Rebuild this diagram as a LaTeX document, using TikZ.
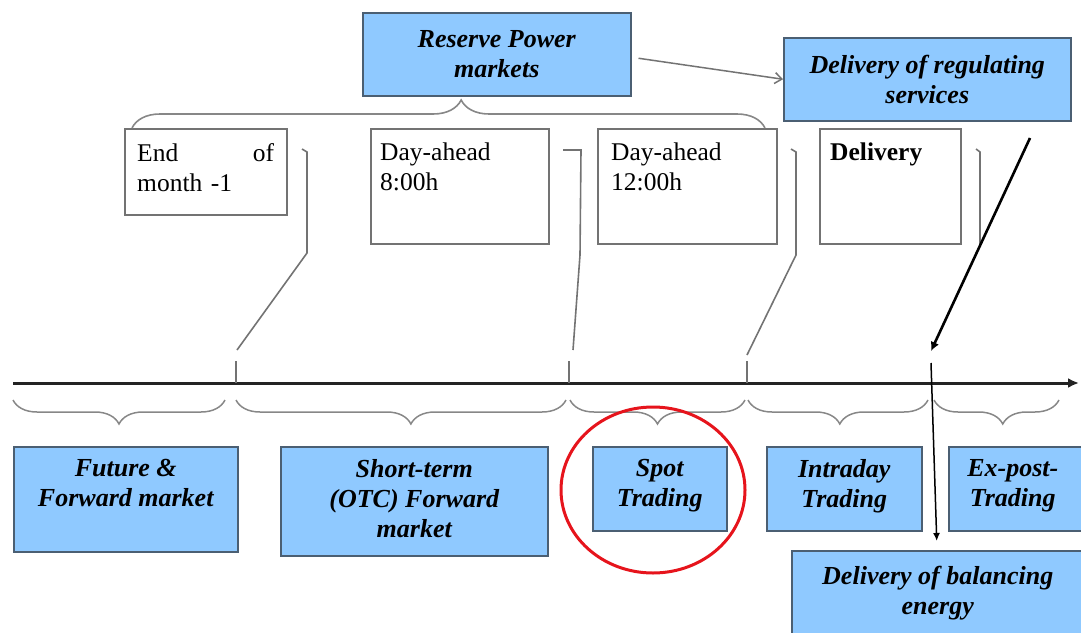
\documentclass[tikz,border=0pt]{standalone}
\usepackage{fontspec}
\setmainfont{Liberation Serif}
\usetikzlibrary{decorations.pathreplacing,arrows.meta,calc}

\definecolor{boxblue}{RGB}{143,201,255}
\definecolor{boxedge}{RGB}{75,95,115}
\definecolor{linegray}{RGB}{115,115,115}
\definecolor{bracegray}{RGB}{135,135,135}
\definecolor{axisblack}{RGB}{35,35,35}
\definecolor{ringred}{RGB}{230,20,28}

\begin{document}
\begin{tikzpicture}[x=1pt,y=-1pt,
  bluebox/.style={draw=boxedge,line width=1.5pt,fill=boxblue,anchor=north west,inner sep=0pt},
  whitebox/.style={draw=linegray,line width=1.8pt,fill=white,anchor=north west,inner sep=0pt},
  btext/.style={font=\fontsize{26}{30}\selectfont\bfseries\itshape,align=center,inner sep=0pt},
  wtext/.style={font=\fontsize{25.5}{30}\selectfont,align=left,inner sep=0pt,anchor=north west},
  bracket/.style={draw=linegray,line width=1.6pt},
  tick/.style={draw=linegray,line width=1.4pt},
  bracedown/.style={draw=bracegray,line width=1.5pt,decorate,decoration={brace,mirror,amplitude=24pt,aspect=#1}},
  braceup/.style={draw=bracegray,line width=1.6pt,decorate,decoration={brace,amplitude=28pt,aspect=#1}}
]
\useasboundingbox (0,0) rectangle (1081,632);

% time axis and its tick marks
\coordinate (ax0) at (13,383);
\coordinate (ax1) at (1079,383);
\coordinate (t1) at (236,383);
\coordinate (t2) at (569,383);
\coordinate (t3) at (747,383);
\coordinate (t4) at (931,383);
\draw[axisblack,line width=3pt,-{Latex[length=11pt,width=10pt]}] (ax0) -- (ax1);
\foreach \t in {t1,t2,t3}
  \draw[tick] (\t) -- ++(0,-22);

% upper boxes
\node[bluebox,minimum width=268pt,minimum height=83pt] (res) at (362,12) {};
\node[btext] (restxt) at (res.center) {Reserve Power\\markets};
\node[bluebox,minimum width=287pt,minimum height=83pt] (reg) at (783,37) {};
\node[btext] (regtxt) at (reg.center) {Delivery of regulating\\services};

\node[whitebox,minimum width=162pt,minimum height=86pt] (eom) at (124,128) {};
\node[wtext,text width=137pt] (eomtxt) at ([shift={(13,15)}]eom.north west) {End\hfill of\\month -1};
\node[whitebox,minimum width=178pt,minimum height=115pt] (da8) at (370,128) {};
\node[wtext] (da8txt) at ([shift={(10,15)}]da8.north west) {Day-ahead\\8:00h};
\node[whitebox,minimum width=179pt,minimum height=115pt] (da12) at (597,128) {};
\node[wtext] (da12txt) at ([shift={(14,15)}]da12.north west) {Day-ahead\\12:00h};
\node[whitebox,minimum width=141pt,minimum height=115pt] (dlv) at (819,128) {};
\node[wtext,font=\fontsize{25.5}{30}\selectfont\bfseries] (dlvtxt) at ([shift={(11,15)}]dlv.north west) {Delivery};

% brace grouping the three upper gates
\draw[braceup=0.52] (132,128) -- (765,128);

% brackets leading from the gates down to the axis
\draw[bracket] (302,149) -- (307,152) -- (307,253) -- ($(t1)+(1,-33)$);
\draw[bracket] (563,150) -- (581,150) -- (580,255) -- ($(t2)+(4,-33)$);
\draw[bracket] (791,149) -- (796,152) -- (796,255) -- ($(t3)+(0,-28)$);
\draw[bracket] (976,149) -- (980,152) -- (980,244);

% arrows
\draw[linegray,line width=1.5pt,-{Straight Barb[length=7pt,width=11pt]}] ([shift={(7,4)}]res.east) -- (reg.west);
\coordinate (regfoot) at (1030,138);
\draw[black,line width=2.6pt,-{Latex[length=9pt,width=9pt]}] (regfoot) -- ($(t4)+(0,-32)$);

% lower braces
\draw[bracedown=0.5]  (13,400) -- (225,400);
\draw[bracedown=0.53] (236,400) -- (566,400);
\draw[bracedown=0.5]  (570,400) -- (745,400);
\draw[bracedown=0.51] (748,400) -- (928,400);
\draw[bracedown=0.55] (934,400) -- (1059,400);

% lower boxes
\node[bluebox,minimum width=224pt,minimum height=105pt] (fut) at (13,446) {};
\node[btext,anchor=north] (futtxt) at ([yshift=-13pt]fut.north) {Future \&\\Forward market};
\node[bluebox,minimum width=267pt,minimum height=109pt] (otc) at (280,446) {};
\node[btext,anchor=north] (otctxt) at ([yshift=-13pt]otc.north) {Short-term\\(OTC) Forward\\market};
\node[bluebox,minimum width=134pt,minimum height=84pt] (spot) at (592,446) {};
\node[btext,anchor=north] (spottxt) at ([yshift=-13pt]spot.north) {Spot\\Trading};
\node[bluebox,minimum width=155pt,minimum height=84pt] (intra) at (766,446) {};
\node[btext,anchor=north] (intratxt) at ([yshift=-13pt]intra.north) {Intraday\\Trading};
\node[bluebox,minimum width=140pt,minimum height=84pt] (expost) at (948,446) {};
\node[btext,anchor=north] (expostxt) at ([shift={(-6,13)}]expost.north) {Ex-post-\\Trading};
\node[bluebox,minimum width=292pt,minimum height=95pt] (bal) at (791,550) {};
\node[btext,anchor=north] (baltxt) at ([yshift=-16pt]bal.north) {Delivery of balancing\\energy};

% delivery marker on the axis, down to balancing energy
\draw[black,line width=1.5pt,-{Latex[length=8pt,width=7pt]}] ($(t4)+(0,-20)$) -- ([shift={(-1pt,9pt)}]bal.north);

% highlight around spot trading
\draw[ringred,line width=3pt] (653,490) ellipse [x radius=92pt,y radius=83pt];
\end{tikzpicture}
\end{document}
